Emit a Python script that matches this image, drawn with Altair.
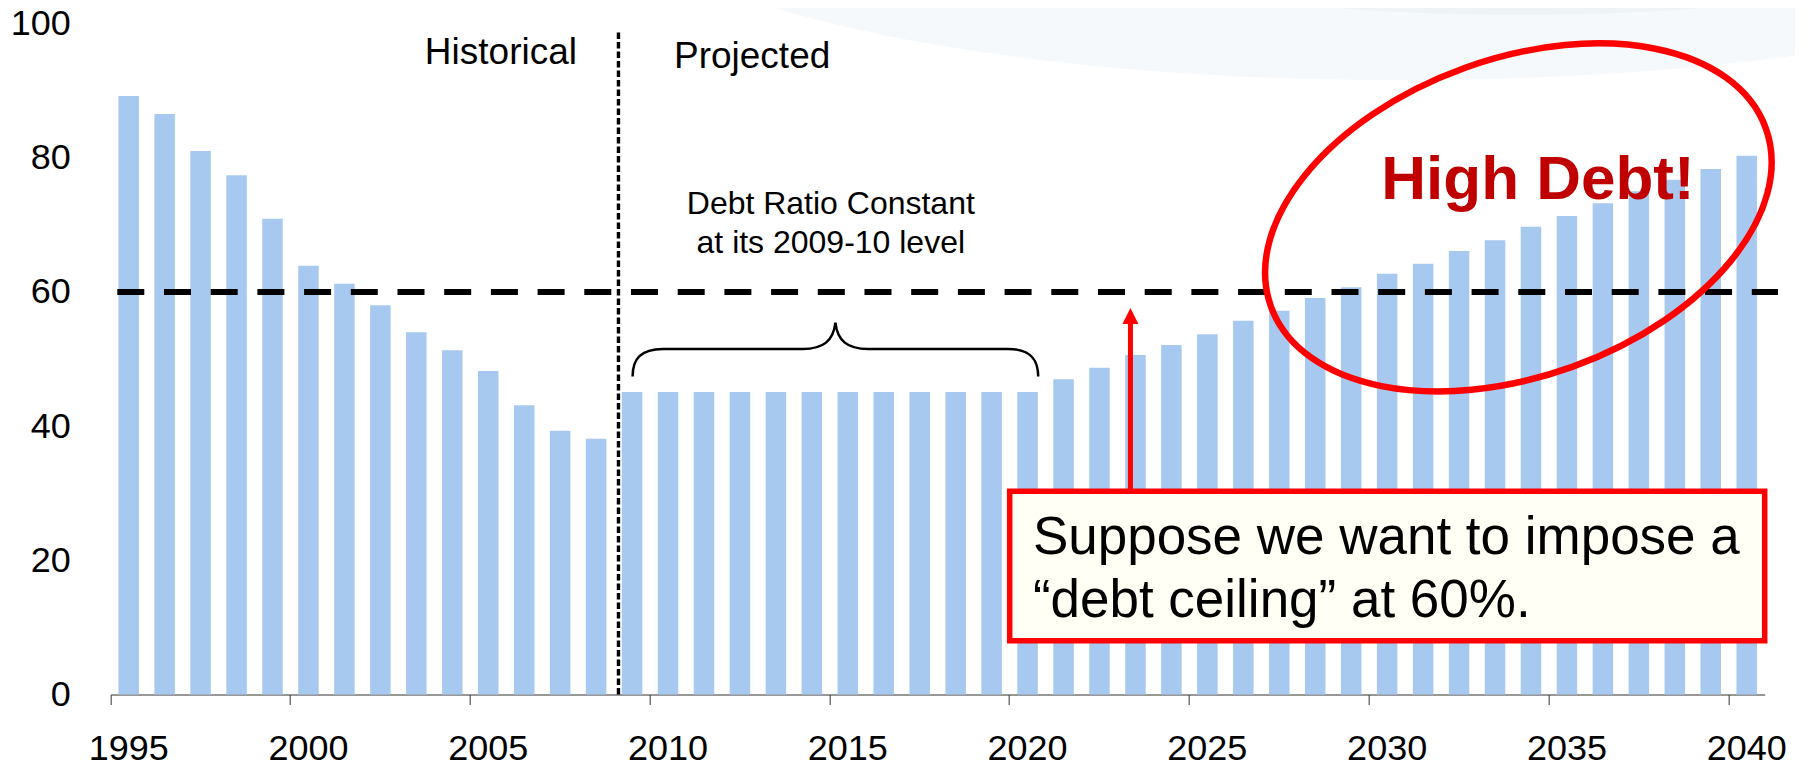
import altair as alt
import pandas as pd

# ---------------- data ----------------
years = [str(y) for y in range(1995, 2041)]
debt_ratio = [
    89.2, 86.5, 81.0, 77.4, 70.9, 63.9, 61.2, 58.0, 54.0, 51.3, 48.2, 43.1, 39.3, 38.1,   # 1995-2008
    45.1, 45.1, 45.1, 45.1, 45.1, 45.1, 45.1, 45.1, 45.1, 45.1, 45.1, 45.1,               # 2009-2020
    47.0, 48.7, 50.6, 52.1, 53.7, 55.7, 57.2, 59.1, 60.7, 62.7,                           # 2021-2030
    64.2, 66.1, 67.7, 69.7, 71.3, 73.2, 75.0, 76.7, 78.3, 80.3,                           # 2031-2040
]
tick_years = [str(y) for y in range(1995, 2041, 5)]
y_ticks = [0, 20, 40, 60, 80, 100]
ceiling = 60

FONT = "Liberation Sans"
W, H = 1654, 671
BAR = "#A7C9EF"
RED = "#FF0000"

df = pd.DataFrame({"year": years, "ratio": debt_ratio})
one = pd.DataFrame({"k": [0]})


def xd(year):
    return alt.XDatum(year, type="ordinal")


def yd(v):
    return alt.YDatum(v, type="quantitative")


ELLIPSE = "M -1 0 A 1 {r} 0 1 1 1 0 A 1 {r} 0 1 1 -1 0 Z"

x_enc = alt.X(
    "year:O",
    sort=years,
    scale=alt.Scale(type="band", domain=years, paddingInner=0, paddingOuter=0),
    axis=alt.Axis(
        values=tick_years,
        bandPosition=0,
        tickExtra=False,
        labelAngle=0,
        labelFont=FONT,
        labelFontSize=36,
        labelColor="black",
        labelPadding=27,
        labelOverlap=False,
        tickSize=10,
        tickColor="#555555",
        tickWidth=1.2,
        domainColor="#333333",
        domainWidth=1.2,
        grid=False,
        title=None,
    ),
)
y_enc = alt.Y(
    "ratio:Q",
    scale=alt.Scale(domain=[0, 100], nice=False),
    axis=alt.Axis(
        values=y_ticks,
        domain=False,
        ticks=False,
        tickSize=0,
        labelPadding=40.5,
        labelFont=FONT,
        labelFontSize=36,
        labelColor="black",
        grid=False,
        title=None,
    ),
)

# invisible copy of the bars first, so the band scale / axes are defined by the bar layer
bars_base = alt.Chart(df).mark_bar(color=BAR, opacity=0, width={"band": 0.57}).encode(
    x=x_enc, y=y_enc
)

# faint slide background swooshes
swoosh_outer = alt.Chart(one).mark_point(
    shape=ELLIPSE.format(r=0.231), size=2433600, filled=True, color="#F6F9FB",
    opacity=1, strokeWidth=0, xOffset=-23.2,
).encode(x=xd("2031"), y=yd(118.4))

swoosh_inner = alt.Chart(one).mark_point(
    shape=ELLIPSE.format(r=0.145), size=577600, filled=True, color="#EEF3F6",
    opacity=1, strokeWidth=0, xOffset=-11,
).encode(x=xd("2034"), y=yd(109.5))

bars = alt.Chart(df).mark_bar(color=BAR, width={"band": 0.57}).encode(x=x_enc, y=y_enc)

# historical / projected divider
divider = alt.Chart(one).mark_rule(
    color="black", strokeWidth=3.4, strokeDash=[6.5, 3], xOffset=-13.6
).encode(x=xd("2009"), y=yd(0), y2=alt.Y2Datum(99.0))

# 60% ceiling line
ceiling_line = alt.Chart(one).mark_rule(
    color="black", strokeWidth=6, strokeDash=[27, 19.7]
).encode(x=alt.value(6.6), x2=alt.value(1667.3), y=yd(ceiling))

txt_hist = alt.Chart(one).mark_text(
    text="Historical", font=FONT, fontSize=37, color="black",
    align="right", baseline="alphabetic", dx=16.8,
).encode(x=xd("2007"), y=yd(94.0))

txt_proj = alt.Chart(one).mark_text(
    text="Projected", font=FONT, fontSize=37, color="black",
    align="left", baseline="alphabetic", dx=6,
).encode(x=xd("2010"), y=yd(93.3))

txt_const = alt.Chart(one).mark_text(
    text="Debt Ratio Constant\nat its 2009-10 level", lineBreak="\n", lineHeight=39,
    font=FONT, fontSize=32, color="black", align="center", baseline="alphabetic", dx=-17,
).encode(x=xd("2015"), y=yd(71.6))

brace_path = ("M -1 0.136 C -1 0.05 -0.96 0 -0.85 0 L -0.16 0 C -0.06 0 -0.01 -0.04 0 -0.13 "
              "C 0.01 -0.04 0.06 0 0.16 0 L 0.85 0 C 0.96 0 1 0.05 1 0.136")
brace = alt.Chart(one).mark_point(
    shape=brace_path, size=164511, filled=False, color="black", strokeWidth=2.5,
    opacity=1, xOffset=-12.4,
).encode(x=xd("2015"), y=yd(51.5))

# callout box
box = alt.Chart(one).mark_rect(
    fill="#FFFFF5", stroke=RED, strokeWidth=5.5,
).encode(x=alt.value(899), x2=alt.value(W), y=yd(30.3), y2=alt.Y2Datum(8.0))

txt_box = alt.Chart(one).mark_text(
    text="Suppose we want to impose a\n\u201cdebt ceiling\u201d at 60%.", lineBreak="\n",
    lineHeight=63.4, font=FONT, fontSize=53, color="black",
    align="left", baseline="alphabetic", dx=5.3,
).encode(x=xd("2020"), y=yd(21.0))

arrow_line = alt.Chart(one).mark_rule(
    color=RED, strokeWidth=5, xOffset=-5,
).encode(x=xd("2023"), y=yd(30.3), y2=alt.Y2Datum(55.5))

arrow_head = alt.Chart(one).mark_point(
    shape="M 0 -1 L 1 1 L -1 1 Z", size=256, filled=True, color=RED, opacity=1,
    xOffset=-5,
).encode(x=xd("2023"), y=yd(56.4))

ellipse = alt.Chart(one).mark_point(
    shape=ELLIPSE.format(r=0.604),
    size=276676, angle=340.2, filled=False, color=RED, strokeWidth=6.5,
    opacity=1, xOffset=-12.6,
).encode(x=xd("2034"), y=yd(71.1))

txt_high = alt.Chart(one).mark_text(
    text="High Debt!", font=FONT, fontSize=62, fontWeight="bold", color="#C00000",
    align="center", baseline="alphabetic", dx=7,
).encode(x=xd("2034"), y=yd(73.8))

chart = alt.layer(
    bars_base, swoosh_outer, swoosh_inner,
    bars, divider, ceiling_line, txt_hist, txt_proj, txt_const, brace,
    box, txt_box, arrow_line, arrow_head, ellipse, txt_high,
).properties(
    width=W,
    height=H,
    padding={"left": 102.7, "top": 15.5, "right": 30, "bottom": 72},
    autosize=alt.AutoSizeParams(type="none"),
    background="white",
).configure_view(stroke=None)

chart.save("out.html", embed_options={"renderer": "svg", "actions": False})
